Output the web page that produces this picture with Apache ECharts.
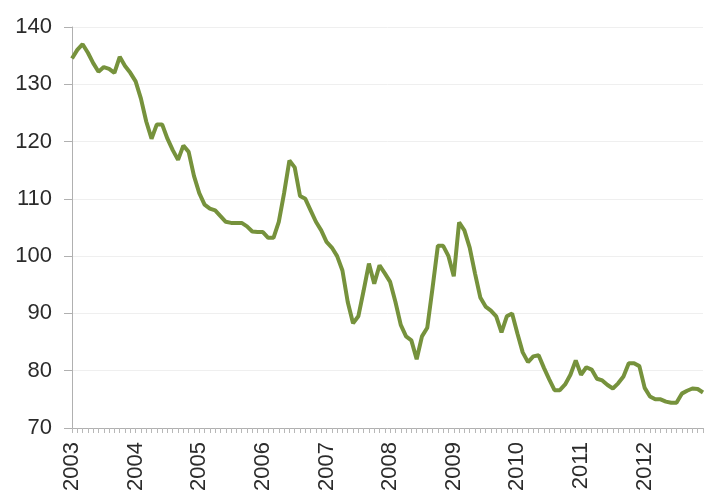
<!DOCTYPE html>
<html>
<head>
<meta charset="utf-8">
<script src="https://cdn.jsdelivr.net/npm/echarts@6/dist/echarts.min.js"></script>
<style>
  html, body { margin: 0; padding: 0; background: #fff; }
  #main { width: 705px; height: 496px; }
</style>
</head>
<body>
<div id="main"></div>
<script>
// years shown on the axis, one label per January
var years = ['2003', '2004', '2005', '2006', '2007', '2008', '2009', '2010', '2011', '2012'];

// monthly values, Jan 2003 .. Dec 2012
var values = [
  134.5, 136, 137, 135.5, 133.7, 132.2, 133, 132.7, 132, 134.8, 133.2, 132,
  130.5, 127.5, 123.5, 120.5, 123, 123, 120.5, 118.5, 116.8, 119.3, 118.2, 114,
  111, 109, 108.3, 108, 107, 106, 105.8, 105.8, 105.8, 105.2, 104.3, 104.2,
  104.2, 103.2, 103.2, 106, 111, 116.7, 115.5, 110.5, 110, 108, 106, 104.5,
  102.5, 101.5, 100, 97.5, 92, 88.3, 89.5, 94, 98.7, 95.2, 98.4, 97,
  95.5, 92, 88, 86, 85.3, 82, 86, 87.5, 94.5, 101.8, 101.8, 100,
  96.5, 105.9, 104.5, 101.5, 97, 92.8, 91.2, 90.5, 89.5, 86.7, 89.5, 90,
  86.5, 83.2, 81.5, 82.5, 82.7, 80.5, 78.5, 76.6, 76.6, 77.6, 79.3, 81.8,
  79.3, 80.6, 80.2, 78.6, 78.3, 77.5, 76.9, 77.8, 79, 81.3, 81.3, 80.8,
  77, 75.5, 75, 75, 74.6, 74.4, 74.4, 76, 76.5, 76.9, 76.8, 76.2
];

// y axis range
var yMin = 70, yMax = 140, yStep = 10;

// month categories built from the years
var months = [];
years.forEach(function (y) {
  for (var m = 1; m <= 12; m++) months.push(y + '-' + (m < 10 ? '0' + m : m));
});

var myChart = echarts.init(document.getElementById('main'));

var option = {
  animation: false,
  grid: { left: 72, right: 2, top: 27, bottom: 68, containLabel: false },
  xAxis: {
    type: 'category',
    boundaryGap: false,
    data: months,
    axisLine: { lineStyle: { color: '#b0b0b0', width: 1 } },
    axisTick: { show: true, interval: 0, length: 5, lineStyle: { color: '#b8b8b8' } },
    axisLabel: {
      interval: 11,
      rotate: 90,
      margin: 14,
      fontSize: 22,
      fontFamily: 'Liberation Sans',
      color: '#2b2b2b',
      formatter: function (v) { return v.slice(0, 4); }
    },
    splitLine: { show: false }
  },
  yAxis: {
    type: 'value',
    min: yMin,
    max: yMax,
    interval: yStep,
    axisLine: { show: true, lineStyle: { color: '#b0b0b0', width: 1 } },
    axisTick: { show: true, length: 8, lineStyle: { color: '#b0b0b0' } },
    axisLabel: {
      margin: 20,
      fontSize: 22,
      fontFamily: 'Liberation Sans',
      color: '#2b2b2b'
    },
    splitLine: { show: true, lineStyle: { color: '#efefef', width: 1 } }
  },
  series: [
    {
      type: 'line',
      data: values,
      symbol: 'none',
      smooth: false,
      lineStyle: { color: '#76923c', width: 4 }
    }
  ]
};
myChart.setOption(option);
</script>
</body>
</html>
